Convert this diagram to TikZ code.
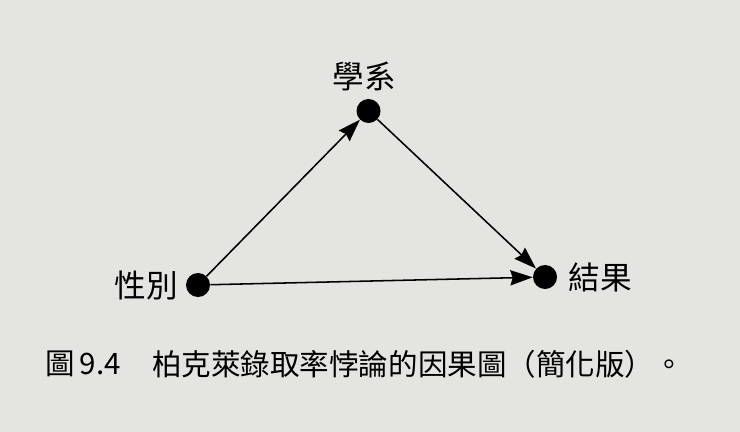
\documentclass[tikz,border=0pt]{standalone}
\usepackage{fontspec}
\newfontfamily\cjk{Noto Sans CJK TC}
\usetikzlibrary{positioning,arrows.meta}
\definecolor{paper}{RGB}{228,228,225}

\begin{document}
\begin{tikzpicture}[
    x=0.025cm, y=-0.025cm,
    dot/.style={circle, fill=black, inner sep=0pt, minimum size=0.6cm},
    lbl/.style={font=\cjk\fontsize{22.5}{22.5}\selectfont, inner sep=0pt},
    captxt/.style={font=\cjk\fontsize{21}{21}\selectfont, inner sep=0pt, anchor=west},
    ar/.style={-{Stealth[length=5.6mm,width=3.8mm,inset=0.6mm]}, line width=1.1pt},
]
% === Paper ===
\fill[paper] (0,0) rectangle (740,432);
\useasboundingbox (0,0) rectangle (740,432);

% === Variables ===
\node[dot] at (198,285) (sex) {};
\node[dot] at (368.5,111) (dept) {};
\node[dot] at (545,277) (res) {};

% --- Labels ---
\node[lbl] at (146.5,286) (sexl) {性別};
\node[lbl] at (364.5,76) (deptl) {學系};
\node[lbl] at (600.5,277.5) (resl) {結果};

% --- Arrows ---
\draw[ar] (sex) -- (dept);
\draw[ar] (dept) -- (res);
\draw[ar] (sex) -- (res);

% === Caption ===
\node[captxt] at (45,364) (fig) {圖\,9.4};
\node[captxt] at (152,364) (capt) {柏克萊錄取率悖論的因果圖（簡化版）。};

\end{tikzpicture}
\end{document}
